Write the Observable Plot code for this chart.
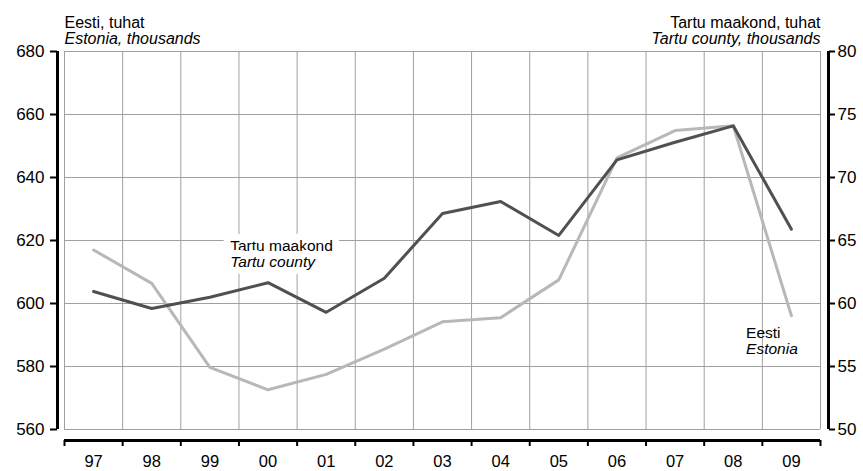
<!DOCTYPE html>
<html><head><meta charset="utf-8">
<script src="https://cdn.jsdelivr.net/npm/d3@7"></script>
<script src="https://cdn.jsdelivr.net/npm/@observablehq/plot@0.6"></script>
<style>body{margin:0;background:#fff;font-family:"Liberation Sans",Arial,sans-serif}</style>
</head><body><div id="chart"></div>
<script>
const years = ["97","98","99","00","01","02","03","04","05","06","07","08","09"];
const estonia = [617, 606.4, 579.7, 572.6, 577.5, 585.5, 594.2, 595.5, 607.5, 646.2, 654.9, 656.4, 596.1];
const tartuCounty = [60.95, 59.6, 60.5, 61.65, 59.3, 62.0, 67.15, 68.1, 65.4, 71.4, 72.8, 74.1, 65.9];
const leftTicks = [560, 580, 600, 620, 640, 660, 680];
const rightTicks = [50, 55, 60, 65, 70, 75, 80];

const toLeft = v => 560 + (v - 50) * 4;
const fromLeft = v => 50 + (v - 560) / 4;

const idx = years.map((d, i) => i);
const boundaries = d3.range(years.length + 1).map(i => i - 0.5);
const estData = years.map((y, i) => ({i, v: estonia[i]}));
const tarData = years.map((y, i) => ({i, v: toLeft(tartuCounty[i])}));
const grid = "#a0a0a0";

const chart = Plot.plot({
  width: 863, height: 471,
  marginLeft: 64, marginRight: 43, marginTop: 51, marginBottom: 42,
  style: {fontFamily: '"Liberation Sans", Arial, sans-serif', fontSize: "17px", color: "#000", background: "#fff"},
  x: {type: "linear", domain: [-0.5, years.length - 0.5], axis: null},
  y: {domain: [560, 680], axis: null},
  marks: [
    Plot.ruleY(leftTicks, {stroke: grid, strokeWidth: 1}),
    Plot.ruleX(boundaries, {stroke: grid, strokeWidth: 1}),
    Plot.line(estData, {x: "i", y: "v", stroke: "#b8b8b8", strokeWidth: 3}),
    Plot.line(tarData, {x: "i", y: "v", stroke: "#505050", strokeWidth: 3}),
    // left axis
    Plot.ruleX([-0.5], {dx: -7, stroke: "#000", strokeWidth: 3}),
    Plot.axisY({anchor: "left", label: null, ticks: leftTicks, tickSize: 7, tickPadding: 6, dx: -7, strokeWidth: 2, fontSize: 17}),
    // right axis
    Plot.ruleX([years.length - 0.5], {dx: 8, stroke: "#000", strokeWidth: 3}),
    Plot.axisY({anchor: "right", label: null, ticks: rightTicks.map(toLeft), tickFormat: d => String(fromLeft(d)), tickSize: 6, tickPadding: 3, dx: 8, strokeWidth: 2, fontSize: 17}),
    // bottom axis
    Plot.ruleY([560], {dy: 11, stroke: "#000", strokeWidth: 3}),
    Plot.axisX({label: null, ticks: boundaries, tickSize: 6, dy: 11, tickFormat: () => "", strokeWidth: 2}),
    Plot.axisX({label: null, ticks: idx, tickSize: 0, tickPadding: 0, dy: 25.5, tickFormat: i => years[i], fontSize: 16.5}),
    // titles
    Plot.text(["Eesti, tuhat"], {frameAnchor: "top-left", textAnchor: "start", lineAnchor: "bottom", dy: -24, fontSize: 16}),
    Plot.text(["Estonia, thousands"], {frameAnchor: "top-left", textAnchor: "start", lineAnchor: "bottom", dy: -8, fontSize: 16, fontStyle: "italic"}),
    Plot.text(["Tartu maakond, tuhat"], {frameAnchor: "top-right", textAnchor: "end", lineAnchor: "bottom", dy: -24, fontSize: 16}),
    Plot.text(["Tartu county, thousands"], {frameAnchor: "top-right", textAnchor: "end", lineAnchor: "bottom", dy: -8, fontSize: 16, fontStyle: "italic"}),
    // annotations
    Plot.text(["Tartu maakond"], {x: () => 2.35, y: () => 616.6, textAnchor: "start", lineAnchor: "bottom", fontSize: 15.5, stroke: "white", strokeWidth: 14, fill: "#000"}),
    Plot.text(["Tartu county"], {x: () => 2.35, y: () => 616.6, dy: 15.5, textAnchor: "start", lineAnchor: "bottom", fontSize: 15.5, fontStyle: "italic", stroke: "white", strokeWidth: 14, fill: "#000"}),
    Plot.text(["Eesti"], {x: () => 11.22, y: () => 588.9, textAnchor: "start", lineAnchor: "bottom", fontSize: 15.5}),
    Plot.text(["Estonia"], {x: () => 11.22, y: () => 588.9, dy: 15.5, textAnchor: "start", lineAnchor: "bottom", fontSize: 15.5, fontStyle: "italic"})
  ]
});
document.getElementById("chart").append(chart);
</script>
</body></html>
